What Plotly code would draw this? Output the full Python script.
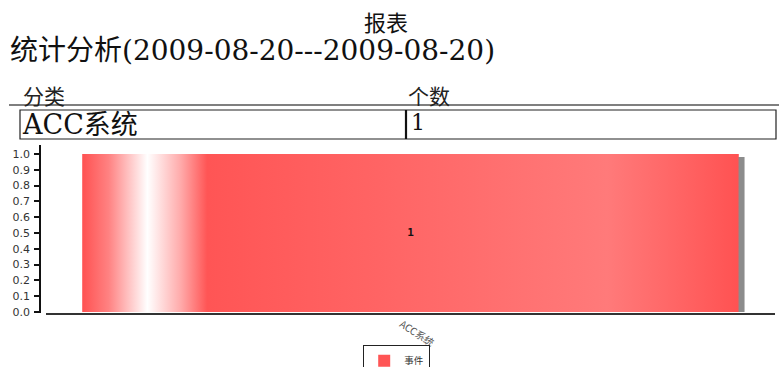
import plotly.graph_objects as go

# ---- data ----
title_text = "报表"
subtitle_text = "统计分析(2009-08-20---2009-08-20)"
col_headers = ["分类", "个数"]
categories = ["ACC系统"]
counts = [1]
series_name = "事件"
y_ticks = [0.0, 0.1, 0.2, 0.3, 0.4, 0.5, 0.6, 0.7, 0.8, 0.9, 1.0]

W, H = 779, 367
def px(x):
    return x / W
def py(y):
    return 1 - y / H

bar_width = 0.9
shadow_dx = 6 / 729.0
shadow_dy = 3 / 158.0
SERIF = "DejaVu Serif, Noto Sans CJK SC"
CJK = "Noto Sans CJK SC"

fig = go.Figure()

for i, (cat, v) in enumerate(zip(categories, counts)):
    x0, x1 = i - bar_width / 2, i + bar_width / 2
    # drop shadow
    fig.add_trace(go.Scatter(
        x=[x0 + shadow_dx, x1 + shadow_dx, x1 + shadow_dx, x0 + shadow_dx, x0 + shadow_dx],
        y=[0, 0, v - shadow_dy, v - shadow_dy, 0],
        fill="toself", fillcolor="rgb(140,140,140)", mode="lines",
        line=dict(width=0), showlegend=False, hoverinfo="skip"))

# base bar (solid) -> legend entry
fig.add_trace(go.Bar(
    x=list(range(len(categories))), y=counts, width=bar_width,
    marker=dict(color="rgb(255,85,85)", line=dict(width=0)),
    name=series_name, showlegend=True, hoverinfo="skip"))

for i, (cat, v) in enumerate(zip(categories, counts)):
    x0, x1 = i - bar_width / 2, i + bar_width / 2
    # gradient face of the bar
    fig.add_trace(go.Scatter(
        x=[x0, x1, x1, x0, x0], y=[0, 0, v, v, 0],
        fill="toself", mode="lines", line=dict(width=0),
        fillgradient=dict(type="horizontal", colorscale=[
            [0.0, "rgb(255,82,82)"],
            [0.04, "rgb(255,130,130)"],
            [0.099, "rgb(255,255,255)"],
            [0.15, "rgb(255,170,170)"],
            [0.19, "rgb(255,85,85)"],
            [0.45, "rgb(255,100,100)"],
            [0.80, "rgb(255,122,122)"],
            [1.0, "rgb(255,82,82)"],
        ]),
        showlegend=False, hoverinfo="skip"))
    fig.add_trace(go.Scatter(
        x=[i], y=[v / 2], mode="text", text=[str(v)],
        textfont=dict(size=11, color="#111", family="DejaVu Sans Mono", weight="bold"),
        showlegend=False, hoverinfo="skip"))

fig.update_layout(
    width=W, height=H,
    margin=dict(l=0, r=0, t=0, b=0, autoexpand=False),
    paper_bgcolor="white", plot_bgcolor="white",
    showlegend=True,
    legend=dict(orientation="h", x=px(363), xanchor="left", y=py(345), yanchor="top",
                bordercolor="#222", borderwidth=1.2,
                font=dict(size=9.5, family=CJK, color="#333"),
                itemwidth=30, bgcolor="white", tracegroupgap=0,
                itemsizing="constant"),
    xaxis=dict(domain=[px(46), px(775)], range=[-0.5, 0.5],
               tickmode="array", tickvals=list(range(len(categories))), ticktext=categories,
               tickangle=33, tickfont=dict(size=10, color="#555", family=CJK),
               ticklabelshift=-9,
               showline=True, linecolor="#333", linewidth=1.5, ticks="",
               showgrid=False, zeroline=False, fixedrange=True),
    yaxis=dict(domain=[py(313), py(145)], range=[-1 / 158.0, 167 / 158.0],
               anchor="free", position=px(40),
               tickmode="array", tickvals=y_ticks, ticktext=[f"{t:.1f}" for t in y_ticks],
               tickfont=dict(size=11, color="#333", family="DejaVu Sans"),
               ticks="outside", ticklen=5, tickcolor="#111", tickwidth=1.5,
               ticklabelstandoff=2,
               showline=True, linecolor="#111", linewidth=1.5,
               showgrid=False, zeroline=False, fixedrange=True),
)

annotations = [
    dict(text=title_text, x=px(386), y=py(21), xref="paper", yref="paper",
         xanchor="center", yanchor="middle", showarrow=False,
         font=dict(size=22, color="#111", family=CJK)),
    dict(text=subtitle_text, x=px(8), y=py(50), xref="paper", yref="paper",
         xanchor="left", yanchor="middle", showarrow=False,
         font=dict(size=28, color="#111", family=SERIF)),
    dict(text=col_headers[0], x=px(21), y=py(95), xref="paper", yref="paper",
         xanchor="left", yanchor="middle", showarrow=False,
         font=dict(size=21, color="#222", family=CJK)),
    dict(text=col_headers[1], x=px(406), y=py(95), xref="paper", yref="paper",
         xanchor="left", yanchor="middle", showarrow=False,
         font=dict(size=21, color="#222", family=CJK)),
]
shapes = [
    dict(type="line", xref="paper", yref="paper", x0=px(9), x1=1, y0=py(105), y1=py(105),
         line=dict(color="#555", width=1.5)),
]
row_h = 29
for r, (cat, v) in enumerate(zip(categories, counts)):
    top = 110 + r * row_h
    shapes.append(dict(type="rect", xref="paper", yref="paper", x0=px(20), x1=px(776),
                       y0=py(top + row_h), y1=py(top), line=dict(color="#222", width=1.2)))
    shapes.append(dict(type="line", xref="paper", yref="paper", x0=px(406), x1=px(406),
                       y0=py(top + row_h), y1=py(top), line=dict(color="#111", width=2.2)))
    annotations.append(dict(text=cat, x=px(20), y=py(top + 14), xref="paper", yref="paper",
                            xanchor="left", yanchor="middle", showarrow=False,
                            font=dict(size=27, color="#111", family=SERIF)))
    annotations.append(dict(text=str(v), x=px(409), y=py(top + 13), xref="paper", yref="paper",
                            xanchor="left", yanchor="middle", showarrow=False,
                            font=dict(size=22, color="#111", family="DejaVu Serif")))

fig.update_layout(annotations=annotations, shapes=shapes)
fig.write_html("out.html")
